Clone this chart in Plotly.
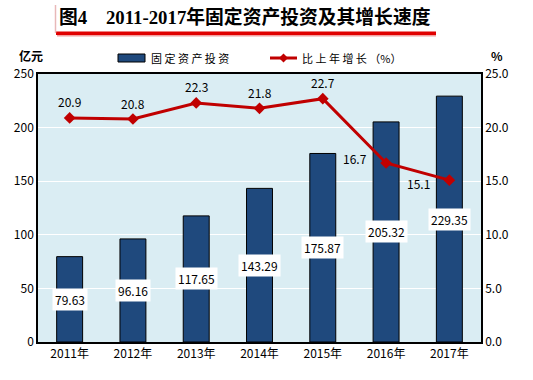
import plotly.graph_objects as go

years = ["2011年", "2012年", "2013年", "2014年", "2015年", "2016年", "2017年"]
investment = [79.63, 96.16, 117.65, 143.29, 175.87, 205.32, 229.35]
growth = [20.9, 20.8, 22.3, 21.8, 22.7, 16.7, 15.1]
left_ticks = [0, 50, 100, 150, 200, 250]
right_ticks = [0, 5, 10, 15, 20, 25]

FONT = "Noto Sans CJK SC, DejaVu Sans Mono"
SERIF = "Liberation Serif, Noto Sans CJK SC"

W, H = 533, 380
L, R, T, B = 38, 52, 74, 38
pw, ph = W - L - R, H - T - B


def px(x):
    return (x - L) / pw


def py(y):
    return (H - B - y) / ph


fig = go.Figure()
fig.add_trace(go.Bar(
    x=years, y=investment, name="固定资产投资",
    marker=dict(color="#1F497D", line=dict(color="#000000", width=1)),
    width=0.41, yaxis="y", showlegend=False,
))
fig.add_trace(go.Scatter(
    x=years, y=growth, name="比上年增长（%）", yaxis="y2",
    mode="lines+markers", showlegend=False,
    line=dict(color="#C00000", width=3),
    marker=dict(symbol="diamond", size=9, color="#C00000"),
))

annotations = []
for x, v in zip(years, investment):
    annotations.append(dict(
        x=x, y=v / 2, xref="x", yref="y", text=f"{v:.2f}", showarrow=False,
        bgcolor="#FFFFFF", font=dict(family=FONT, size=12, color="#000000"),
        borderpad=2,
    ))
offsets = [(0, 16), (0, 16), (0, 16), (0, 16), (0, 16), (-31, 4), (-31, -3)]
for x, v, (dx, dy) in zip(years, growth, offsets):
    annotations.append(dict(
        x=x, y=v, xref="x", yref="y2", text=f"{v:.1f}", showarrow=False,
        xshift=dx, yshift=dy, font=dict(family=FONT, size=12, color="#000000"),
    ))


def pann(text, x, y, size=12, family=FONT, xanchor="center"):
    return dict(text=text, x=px(x), y=py(y), xref="paper", yref="paper",
                showarrow=False, xanchor=xanchor, yanchor="middle",
                font=dict(family=family, size=size, color="#000000"))


annotations += [
    pann("<b>亿元</b>", 31, 55),
    pann("<b>%</b>", 497, 56),
    pann("<b>图4　2011-2017年固定资产投资及其增长速度</b>", 245, 17, size=18.8, family=SERIF),
    pann("固 定 资 产 投 资", 149, 58, size=11, xanchor="left"),
    pann("比 上 年 增 长 （%）", 300, 58, size=11, xanchor="left"),
]

shapes = [
    # title box: red bottom shadow and faint left edge
    dict(type="rect", xref="paper", yref="paper",
         x0=px(56), x1=px(436), y0=py(35), y1=py(31.5),
         fillcolor="#E00000", line=dict(width=0)),
    dict(type="rect", xref="paper", yref="paper",
         x0=px(57), x1=px(436), y0=py(36.5), y1=py(35),
         fillcolor="#F2A0A0", line=dict(width=0)),
    dict(type="line", xref="paper", yref="paper",
         x0=px(55.5), x1=px(55.5), y0=py(33), y1=py(5),
         line=dict(color="#E8B8B8", width=1.5)),
    # legend symbols
    dict(type="rect", xref="paper", yref="paper",
         x0=px(118), x1=px(145), y0=py(62), y1=py(54),
         fillcolor="#1F497D", line=dict(color="#000000", width=1)),
    dict(type="line", xref="paper", yref="paper",
         x0=px(270), x1=px(297), y0=py(58), y1=py(58),
         line=dict(color="#C00000", width=3)),
    dict(type="path", xref="paper", yref="paper",
         path=f"M {px(283.5)} {py(53.5)} L {px(288)} {py(58)} L {px(283.5)} {py(62.5)} L {px(279)} {py(58)} Z",
         fillcolor="#C00000", line=dict(color="#C00000", width=0)),
]

fig.update_layout(
    width=W, height=H,
    margin=dict(l=L, r=R, t=T, b=B),
    paper_bgcolor="#FFFFFF",
    plot_bgcolor="#DAEDF3",
    showlegend=False,
    bargap=0.59,
    xaxis=dict(showline=True, linecolor="#000000", linewidth=1.5, mirror=True,
               tickfont=dict(family=FONT, size=12, color="#000000"), ticks=""),
    yaxis=dict(range=[0, 250], tickvals=left_ticks, showgrid=True, gridcolor="#FFFFFF",
               gridwidth=1, showline=True, linecolor="#000000", linewidth=1.5,
               zeroline=False, ticks="",
               tickfont=dict(family=FONT, size=12, color="#000000")),
    yaxis2=dict(range=[0, 25], tickvals=right_ticks, tickformat=".1f", overlaying="y",
                side="right", showgrid=False, showline=True, linecolor="#000000",
                linewidth=1.5, zeroline=False, ticks="",
                tickfont=dict(family=FONT, size=12, color="#000000")),
    annotations=annotations,
    shapes=shapes,
)

fig.write_html("out.html", config={"displayModeBar": False},
               post_script="document.body.style.margin='0';document.body.style.overflow='hidden';")
